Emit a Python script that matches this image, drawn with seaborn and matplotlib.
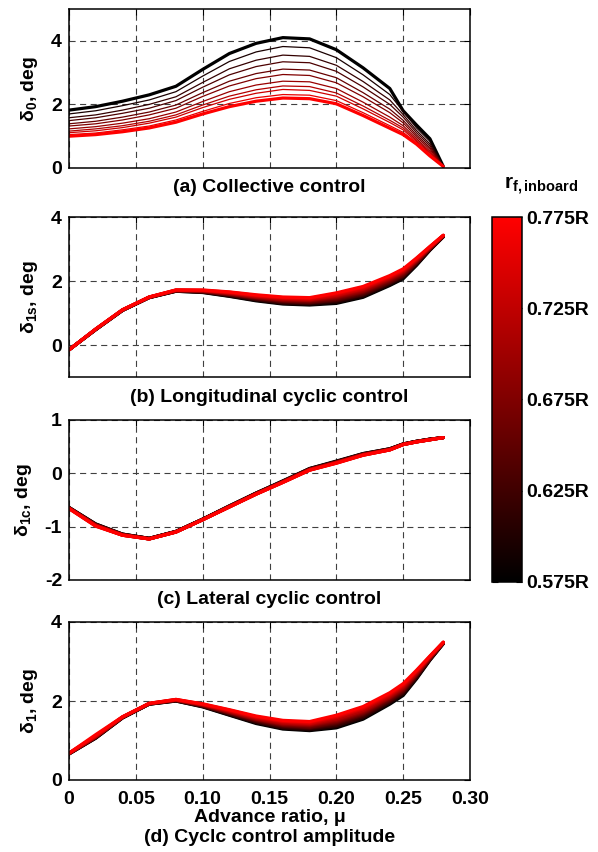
import matplotlib
matplotlib.use('Agg')
import matplotlib.pyplot as plt
import seaborn as sns
import pandas as pd
from matplotlib.colors import LinearSegmentedColormap, Normalize
from matplotlib.cm import ScalarMappable

# ---------------- data ----------------
mu = [0.00, 0.02, 0.04, 0.06, 0.08, 0.10, 0.12, 0.14, 0.16, 0.18, 0.20, 0.22, 0.24, 0.25, 0.26, 0.27, 0.28]
r_inboard = [0.575, 0.595, 0.615, 0.635, 0.655, 0.675, 0.695, 0.715, 0.735, 0.755, 0.775]
cbar_ticks = [0.575, 0.625, 0.675, 0.725, 0.775]
cbar_labels = ['0.575R', '0.625R', '0.675R', '0.725R', '0.775R']
x_ticks = [0, 0.05, 0.10, 0.15, 0.20, 0.25, 0.30]
x_ticklabels = ['0', '0.05', '0.10', '0.15', '0.20', '0.25', '0.30']

# (a) collective control, one list per r_inboard (0.575R ... 0.775R)
delta0 = [
    [1.82, 1.93, 2.10, 2.30, 2.57, 3.10, 3.60, 3.92, 4.10, 4.06, 3.72, 3.15, 2.50, 1.80, 1.35, 0.92, 0.05],
    [1.70, 1.80, 1.96, 2.14, 2.40, 2.89, 3.35, 3.65, 3.82, 3.78, 3.47, 2.93, 2.31, 1.78, 1.26, 0.84, 0.05],
    [1.58, 1.67, 1.82, 2.00, 2.24, 2.69, 3.12, 3.39, 3.55, 3.51, 3.23, 2.72, 2.14, 1.68, 1.18, 0.76, 0.05],
    [1.49, 1.58, 1.72, 1.88, 2.12, 2.54, 2.93, 3.19, 3.34, 3.31, 3.04, 2.55, 2.00, 1.60, 1.11, 0.70, 0.05],
    [1.39, 1.47, 1.60, 1.76, 1.98, 2.37, 2.73, 2.97, 3.11, 3.08, 2.84, 2.37, 1.85, 1.50, 1.04, 0.64, 0.05],
    [1.32, 1.39, 1.51, 1.67, 1.88, 2.25, 2.58, 2.81, 2.94, 2.91, 2.68, 2.24, 1.74, 1.42, 0.98, 0.59, 0.05],
    [1.23, 1.30, 1.41, 1.55, 1.76, 2.09, 2.40, 2.61, 2.73, 2.71, 2.50, 2.07, 1.60, 1.33, 0.92, 0.53, 0.05],
    [1.16, 1.23, 1.33, 1.47, 1.67, 1.98, 2.26, 2.46, 2.58, 2.56, 2.36, 1.95, 1.50, 1.26, 0.87, 0.49, 0.05],
    [1.11, 1.17, 1.27, 1.41, 1.60, 1.90, 2.16, 2.35, 2.47, 2.44, 2.26, 1.86, 1.43, 1.20, 0.83, 0.46, 0.05],
    [1.05, 1.10, 1.20, 1.32, 1.51, 1.78, 2.03, 2.21, 2.31, 2.29, 2.12, 1.74, 1.33, 1.12, 0.79, 0.41, 0.05],
    [1.00, 1.05, 1.14, 1.26, 1.44, 1.70, 1.93, 2.10, 2.20, 2.18, 2.02, 1.65, 1.25, 1.05, 0.75, 0.38, 0.05],
]

# (b) longitudinal cyclic control
delta1s = [
    [-0.15, 0.48, 1.08, 1.48, 1.68, 1.64, 1.52, 1.38, 1.28, 1.25, 1.30, 1.49, 1.86, 2.07, 2.49, 2.96, 3.38],
    [-0.15, 0.48, 1.08, 1.48, 1.68, 1.65, 1.53, 1.40, 1.30, 1.27, 1.33, 1.52, 1.89, 2.10, 2.51, 2.97, 3.38],
    [-0.15, 0.48, 1.08, 1.48, 1.69, 1.66, 1.55, 1.42, 1.32, 1.30, 1.37, 1.56, 1.92, 2.13, 2.54, 2.98, 3.39],
    [-0.15, 0.49, 1.09, 1.49, 1.69, 1.66, 1.56, 1.44, 1.35, 1.32, 1.40, 1.59, 1.95, 2.16, 2.56, 3.00, 3.40],
    [-0.15, 0.49, 1.09, 1.49, 1.70, 1.67, 1.58, 1.46, 1.37, 1.34, 1.43, 1.63, 1.98, 2.19, 2.58, 3.01, 3.40],
    [-0.15, 0.49, 1.09, 1.49, 1.70, 1.68, 1.59, 1.48, 1.39, 1.37, 1.47, 1.66, 2.02, 2.23, 2.61, 3.02, 3.41],
    [-0.15, 0.49, 1.09, 1.49, 1.70, 1.69, 1.60, 1.49, 1.41, 1.39, 1.50, 1.69, 2.05, 2.26, 2.63, 3.03, 3.41],
    [-0.15, 0.49, 1.09, 1.49, 1.71, 1.70, 1.62, 1.51, 1.43, 1.41, 1.53, 1.73, 2.08, 2.29, 2.65, 3.04, 3.42],
    [-0.15, 0.50, 1.10, 1.50, 1.71, 1.70, 1.63, 1.53, 1.46, 1.43, 1.56, 1.76, 2.11, 2.32, 2.67, 3.06, 3.42],
    [-0.15, 0.50, 1.10, 1.50, 1.72, 1.71, 1.65, 1.55, 1.48, 1.46, 1.60, 1.80, 2.14, 2.35, 2.70, 3.07, 3.43],
    [-0.15, 0.50, 1.10, 1.50, 1.72, 1.72, 1.66, 1.57, 1.50, 1.48, 1.63, 1.83, 2.17, 2.38, 2.72, 3.08, 3.43],
]

# (c) lateral cyclic control
delta1c = [
    [-0.64, -0.95, -1.14, -1.22, -1.09, -0.86, -0.61, -0.37, -0.14, 0.09, 0.23, 0.37, 0.46, 0.55, 0.60, 0.64, 0.67],
    [-0.64, -0.95, -1.14, -1.22, -1.09, -0.86, -0.61, -0.37, -0.15, 0.09, 0.22, 0.37, 0.46, 0.55, 0.60, 0.64, 0.67],
    [-0.64, -0.96, -1.14, -1.22, -1.09, -0.86, -0.62, -0.37, -0.15, 0.08, 0.22, 0.36, 0.46, 0.55, 0.60, 0.64, 0.67],
    [-0.65, -0.96, -1.15, -1.22, -1.09, -0.86, -0.62, -0.38, -0.15, 0.08, 0.21, 0.36, 0.45, 0.55, 0.60, 0.64, 0.67],
    [-0.65, -0.97, -1.15, -1.22, -1.09, -0.86, -0.62, -0.38, -0.16, 0.08, 0.21, 0.36, 0.45, 0.55, 0.60, 0.64, 0.67],
    [-0.65, -0.97, -1.15, -1.23, -1.10, -0.87, -0.62, -0.38, -0.16, 0.07, 0.21, 0.35, 0.45, 0.54, 0.59, 0.63, 0.67],
    [-0.65, -0.97, -1.15, -1.23, -1.10, -0.87, -0.62, -0.38, -0.16, 0.07, 0.20, 0.35, 0.45, 0.54, 0.59, 0.63, 0.67],
    [-0.65, -0.98, -1.16, -1.23, -1.10, -0.87, -0.63, -0.39, -0.16, 0.07, 0.20, 0.35, 0.44, 0.54, 0.59, 0.63, 0.67],
    [-0.66, -0.98, -1.16, -1.23, -1.10, -0.87, -0.63, -0.39, -0.17, 0.06, 0.20, 0.34, 0.44, 0.54, 0.59, 0.63, 0.67],
    [-0.66, -0.99, -1.16, -1.23, -1.10, -0.87, -0.63, -0.39, -0.17, 0.06, 0.19, 0.34, 0.44, 0.54, 0.59, 0.63, 0.67],
    [-0.66, -0.99, -1.16, -1.23, -1.10, -0.87, -0.63, -0.39, -0.17, 0.06, 0.19, 0.34, 0.44, 0.54, 0.59, 0.63, 0.67],
]

# (d) cyclic control amplitude
delta1 = [
    [0.66, 1.06, 1.57, 1.92, 2.00, 1.85, 1.64, 1.43, 1.29, 1.25, 1.32, 1.54, 1.92, 2.14, 2.56, 3.03, 3.45],
    [0.66, 1.06, 1.57, 1.92, 2.00, 1.86, 1.65, 1.45, 1.31, 1.27, 1.35, 1.57, 1.95, 2.17, 2.58, 3.04, 3.45],
    [0.66, 1.07, 1.58, 1.92, 2.01, 1.87, 1.67, 1.47, 1.33, 1.30, 1.38, 1.60, 1.98, 2.20, 2.60, 3.05, 3.46],
    [0.67, 1.08, 1.58, 1.93, 2.01, 1.87, 1.68, 1.49, 1.36, 1.32, 1.42, 1.64, 2.01, 2.23, 2.63, 3.06, 3.46],
    [0.67, 1.08, 1.58, 1.93, 2.02, 1.88, 1.70, 1.51, 1.38, 1.34, 1.45, 1.67, 2.04, 2.26, 2.65, 3.07, 3.47],
    [0.67, 1.09, 1.59, 1.93, 2.02, 1.89, 1.71, 1.53, 1.40, 1.37, 1.48, 1.70, 2.07, 2.29, 2.67, 3.08, 3.47],
    [0.67, 1.09, 1.59, 1.93, 2.02, 1.90, 1.72, 1.54, 1.42, 1.39, 1.51, 1.73, 2.09, 2.32, 2.69, 3.10, 3.47],
    [0.67, 1.10, 1.59, 1.93, 2.03, 1.91, 1.74, 1.56, 1.44, 1.41, 1.54, 1.76, 2.12, 2.35, 2.71, 3.11, 3.48],
    [0.68, 1.11, 1.59, 1.94, 2.03, 1.91, 1.75, 1.58, 1.47, 1.43, 1.58, 1.80, 2.15, 2.38, 2.74, 3.12, 3.48],
    [0.68, 1.12, 1.60, 1.94, 2.04, 1.92, 1.77, 1.60, 1.49, 1.46, 1.61, 1.83, 2.18, 2.41, 2.76, 3.13, 3.49],
    [0.68, 1.15, 1.60, 1.94, 2.04, 1.93, 1.78, 1.62, 1.51, 1.48, 1.64, 1.86, 2.21, 2.44, 2.78, 3.14, 3.49],
]

panels = [
    dict(data=delta0, ylabel='δ$_0$, deg', ylim=(0, 5), yticks=[0, 2, 4],
         title='(a) Collective control'),
    dict(data=delta1s, ylabel='δ$_{1s}$, deg', ylim=(-1, 4), yticks=[0, 2, 4],
         title='(b) Longitudinal cyclic control'),
    dict(data=delta1c, ylabel='δ$_{1c}$, deg', ylim=(-2, 1), yticks=[-2, -1, 0, 1],
         title='(c) Lateral cyclic control'),
    dict(data=delta1, ylabel='δ$_1$, deg', ylim=(0, 4), yticks=[0, 2, 4],
         title=None),
]

# ---------------- style ----------------
sns.set_theme(style='white')
plt.rcParams['font.family'] = ['Liberation Sans', 'DejaVu Sans']
plt.rcParams['font.weight'] = 'bold'
plt.rcParams['axes.labelweight'] = 'bold'
plt.rcParams['axes.unicode_minus'] = False
plt.rcParams['text.color'] = 'black'
plt.rcParams['axes.labelcolor'] = 'black'
plt.rcParams['xtick.color'] = 'black'
plt.rcParams['ytick.color'] = 'black'
plt.rcParams['mathtext.fontset'] = 'custom'
plt.rcParams['mathtext.rm'] = 'Liberation Sans:bold'
plt.rcParams['mathtext.it'] = 'Liberation Sans:bold'
plt.rcParams['mathtext.bf'] = 'Liberation Sans:bold'

cmap = LinearSegmentedColormap.from_list('blackred', [(0, 0, 0), (1, 0, 0)])
norm = Normalize(vmin=min(r_inboard), vmax=max(r_inboard))

W, H = 598, 852
fig = plt.figure(figsize=(W / 100, H / 100), dpi=100)

# axes boxes in pixels: (left, top, right, bottom)
boxes = [(69, 9, 470, 168), (69, 217, 470, 377), (69, 420, 470, 580), (69, 622, 470, 780)]

FS = 14
for k, (p, box) in enumerate(zip(panels, boxes)):
    l, t, r, b = box
    ax = fig.add_axes([l / W, 1 - b / H, (r - l) / W, (b - t) / H])
    n = len(p['data'])
    for i, (rv, series) in enumerate(zip(r_inboard, p['data'])):
        df = pd.DataFrame({'mu': mu, 'val': series})
        if k == 0:
            lw = 2.3 if i in (0, n - 1) else 0.9
        else:
            lw = 2.3
        sns.lineplot(data=df, x='mu', y='val', color=cmap(norm(rv)), lw=lw,
                     estimator=None, sort=False, ax=ax, zorder=3 + i)
    ax.set_xlim(0, 0.30)
    ax.set_ylim(*p['ylim'])
    ax.set_xticks(x_ticks)
    ax.set_yticks(p['yticks'])
    ax.grid(True, linestyle=(0, (5.5, 4)), color='0.25', lw=0.8)
    for s in ax.spines.values():
        s.set_color('black')
        s.set_linewidth(1.1)
        s.set_zorder(20)
    ax.tick_params(direction='in', length=4, width=0.8, top=True, right=True,
                   labelsize=FS, colors='black', pad=5)
    ax.set_ylabel(p['ylabel'], fontsize=FS, fontweight='bold', labelpad=8)
    ax.set_xlabel('')
    if k < 3:
        ax.tick_params(labelbottom=False)
        ax.text(0.5, -20.0 / (b - t), p['title'], transform=ax.transAxes,
                ha='center', va='center', fontsize=FS, fontweight='bold')
    else:
        ax.set_xticklabels(x_ticklabels)
        ax.tick_params(axis='x', pad=8)
        for lab in ax.get_xticklabels():
            lab.set_fontweight('bold')
        ax.text(0.5, -(817 - b) / (b - t), 'Advance ratio, μ', transform=ax.transAxes,
                ha='center', va='center', fontsize=FS, fontweight='bold')
        ax.text(0.5, -(838 - b) / (b - t), '(d) Cyclc control amplitude', transform=ax.transAxes,
                ha='center', va='center', fontsize=FS, fontweight='bold')
    for lab in ax.get_yticklabels():
        lab.set_fontweight('bold')

# colorbar
cax = fig.add_axes([492 / W, 1 - 581.7 / H, 30 / W, 364.4 / H])
cb = fig.colorbar(ScalarMappable(norm=norm, cmap=cmap), cax=cax)
cb.set_ticks(cbar_ticks)
cb.set_ticklabels(cbar_labels)
cb.outline.set_linewidth(1.1)
cb.outline.set_edgecolor('black')
cax.tick_params(direction='in', length=4, width=0.8, left=True, right=True,
                labelsize=FS, colors='black', pad=3)
for lab in cax.get_yticklabels():
    lab.set_fontweight('bold')
fig.text(541 / W, 1 - 186 / H, 'r$_{f,inboard}$', ha='center', va='center', fontsize=15)

fig.savefig('out.png', dpi=100)
